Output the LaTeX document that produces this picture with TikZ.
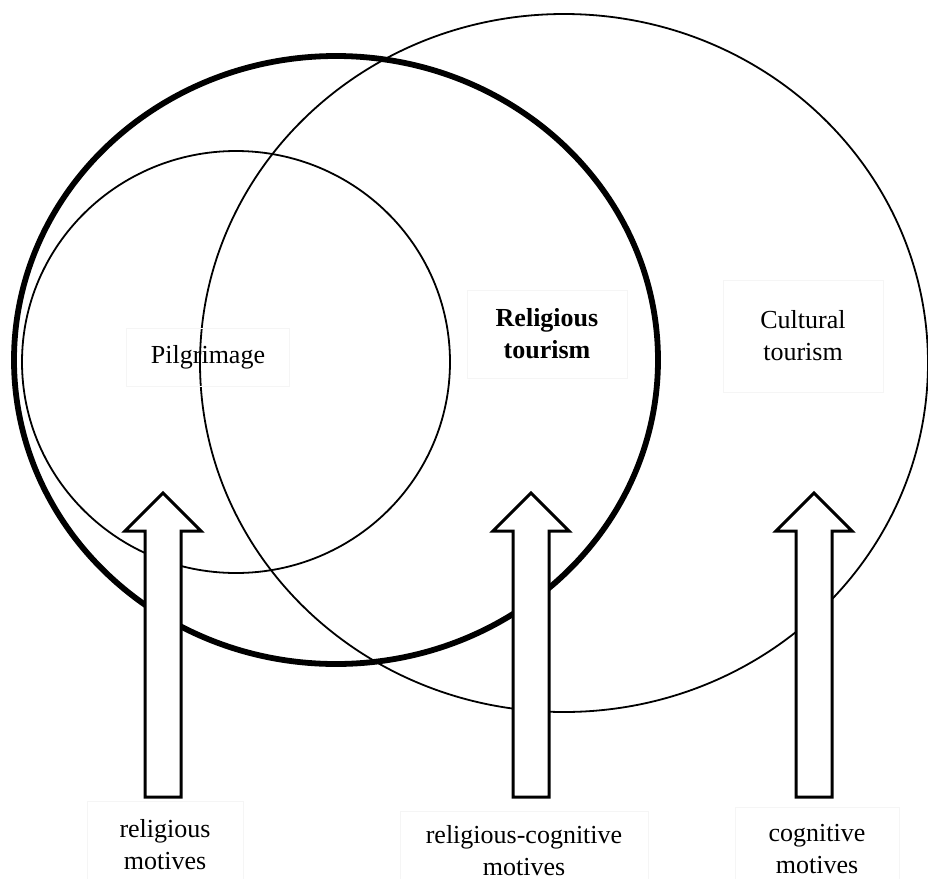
\documentclass[tikz,border=0pt]{standalone}
\usepackage{fontspec}
\setmainfont{Liberation Serif}
\usepackage{tikz}
\usetikzlibrary{positioning}
\tikzstyle{label} = [rectangle, draw=black!4, line width=0.3pt, align=center,
  inner sep=0pt, font=\fontsize{13}{16}\selectfont]
\tikzstyle{ring} = [line width=0.9pt]
\tikzstyle{boldring} = [line width=2.9pt]
\tikzstyle{uparrow} = [line width=1.5pt, fill=white, line join=miter]

\begin{document}
\begin{tikzpicture}[x=0.5pt, y=-0.5pt]
    \useasboundingbox (0,0) rectangle (928,879);
    \draw[ring] (564,363) ellipse [x radius=364, y radius=349];
    \draw[ring] (236,362) ellipse [x radius=214, y radius=211];
    \draw[boldring] (336,360) ellipse [x radius=322, y radius=304];

    \node[label, minimum width=81.5pt, minimum height=29pt] (pilg) at (208,357) {Pilgrimage};
    \node[label, minimum width=80pt, minimum height=44pt, font=\fontsize{13}{16}\selectfont\bfseries]
      (reltour) at (547,334) {Religious\\ tourism};
    \node[label, minimum width=80pt, minimum height=56pt] (cultour) at (803,336)
      {Cultural\\ tourism};

    \node[label, minimum width=78pt, minimum height=44pt] (relmot) at (165,845) {religious\\ motives};
    \node[label, minimum width=124pt, minimum height=40pt] (rcmot) at (524,851) {religious-cognitive\\ motives};
    \node[label, minimum width=82pt, minimum height=42pt] (cogmot) at (817,849) {cognitive\\ motives};

    \foreach \ax in {163,531,814}
      \draw[uparrow] (\ax-18,797) -- (\ax-18,531) -- (\ax-38,531) -- (\ax,493)
        -- (\ax+38,531) -- (\ax+18,531) -- (\ax+18,797) -- cycle;
\end{tikzpicture}
\end{document}
